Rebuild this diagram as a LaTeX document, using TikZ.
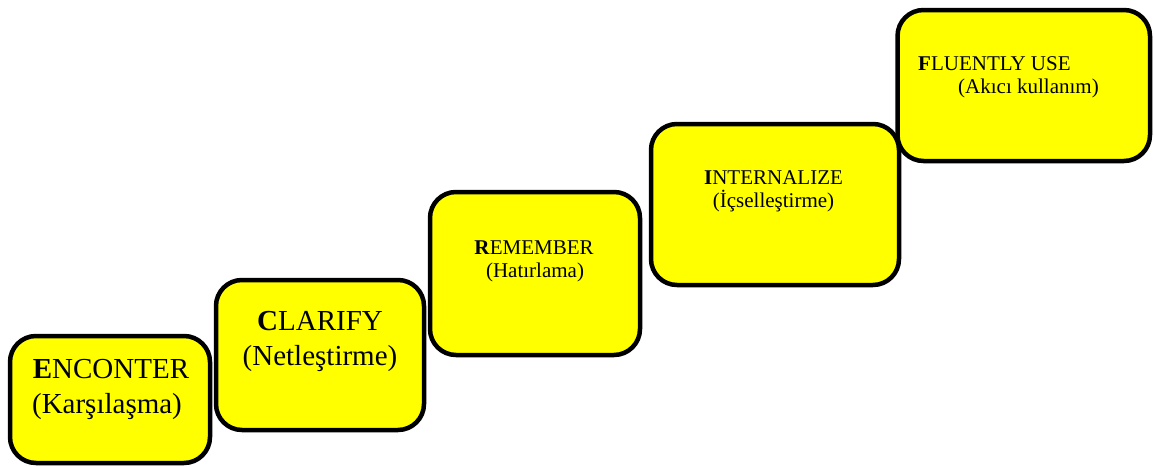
\documentclass[tikz,border=0pt]{standalone}
\usepackage{fontspec}
\setmainfont{Liberation Serif}
\definecolor{stepyellow}{RGB}{255,255,0}
\begin{document}
\begin{tikzpicture}[x=1pt,y=-1pt,
  stepbox/.style={draw=black, line width=4.5pt, fill=stepyellow,
    rounded corners=26pt, inner sep=0pt, outer sep=0pt},
  bigtext/.style={font=\fontsize{29}{35}\selectfont, anchor=base, inner sep=0pt},
  smalltext/.style={font=\fontsize{21}{23}\selectfont, anchor=base, inner sep=0pt}]
\useasboundingbox (0,0) rectangle (1154,466);

% the five steps, rising left to right
\node[stepbox, minimum width=200pt, minimum height=127pt] (b1) at (110,399.5) {};
\node[stepbox, minimum width=208pt, minimum height=150pt] (b2) at (320,355) {};
\node[stepbox, minimum width=210pt, minimum height=163pt] (b3) at (535,273.5) {};
\node[stepbox, minimum width=248pt, minimum height=161pt] (b4) at (775,204.5) {};
\node[stepbox, minimum width=252.5pt, minimum height=151pt] (b5) at (1023.75,85.5) {};

% labels
\node[bigtext] (t1a) at (111,378) {\textbf{E}NCONTER};
\node[bigtext] (t1b) at (107,413) {(Karşılaşma)};
\node[bigtext] (t2a) at (320,330) {\textbf{C}LARIFY};
\node[bigtext] (t2b) at (320,365) {(Netleştirme)};
\node[smalltext] (t3a) at (534,254) {\textbf{R}EMEMBER};
\node[smalltext] (t3b) at (535,277) {(Hatırlama)};
\node[smalltext] (t4a) at (773.5,184) {\textbf{I}NTERNALIZE};
\node[smalltext] (t4b) at (773.5,207) {(İçselleştirme)};
\node[smalltext, anchor=base west] (t5a) at (918,70) {\textbf{F}LUENTLY USE};
\node[smalltext, anchor=base west] (t5b) at (958,93) {(Akıcı kullanım)};
\end{tikzpicture}
\end{document}
